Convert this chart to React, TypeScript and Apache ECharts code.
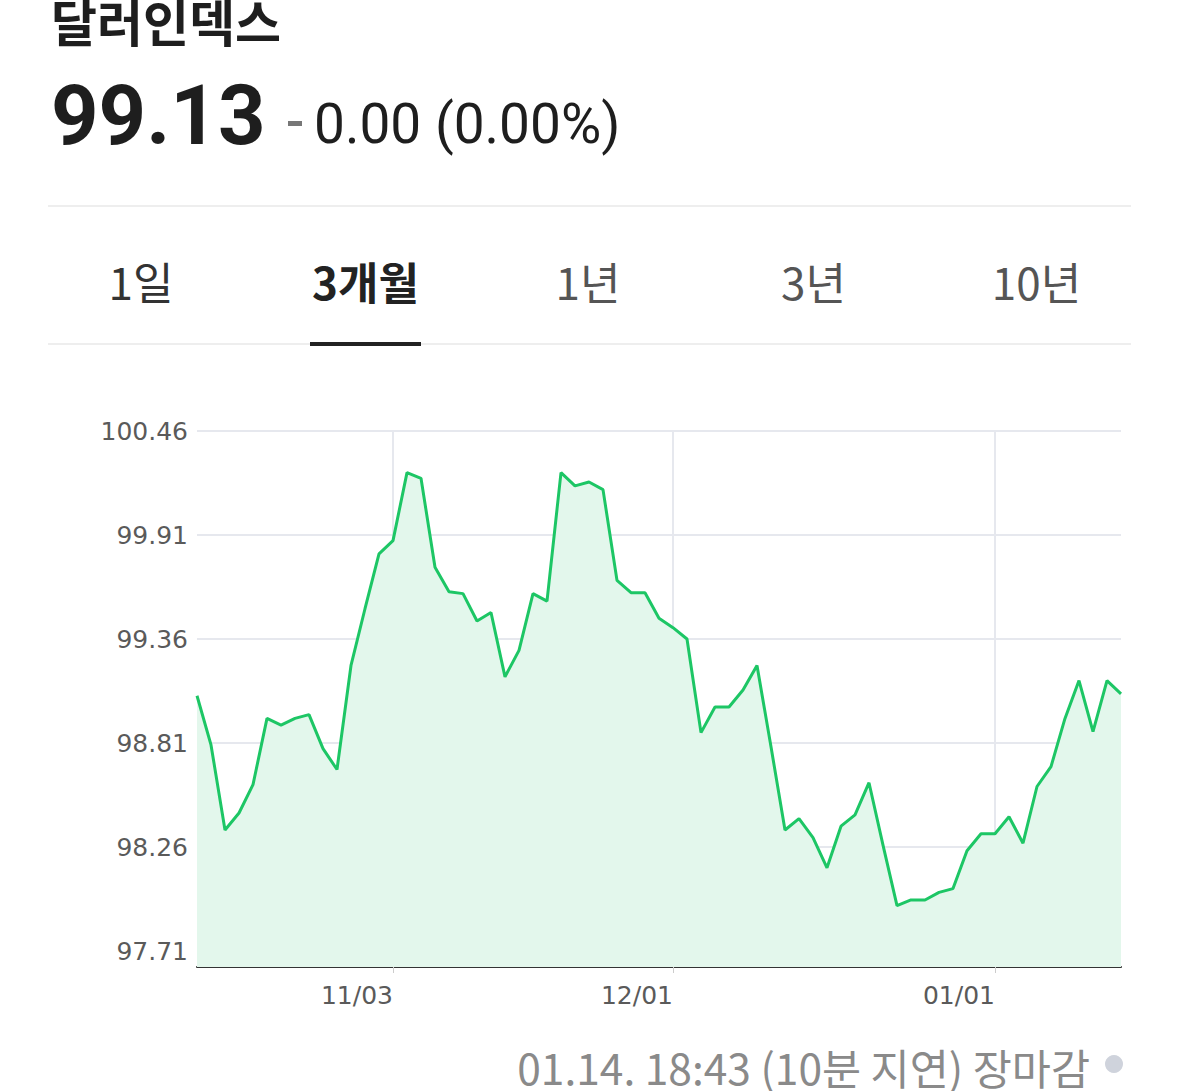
import React, { useEffect, useRef } from "react";
import * as echarts from "echarts";

const dates: string[] = [
  "10/14", "10/15", "10/16", "10/17", "10/20", "10/21", "10/22", "10/23", "10/24", "10/27",
  "10/28", "10/29", "10/30", "10/31",
  "11/03", "11/04", "11/05", "11/06", "11/07", "11/10", "11/11", "11/12", "11/13", "11/14",
  "11/17", "11/18", "11/19", "11/20", "11/21", "11/24", "11/25", "11/26", "11/27", "11/28",
  "12/01", "12/02", "12/03", "12/04", "12/05", "12/08", "12/09", "12/10", "12/11", "12/12",
  "12/15", "12/16", "12/17", "12/18", "12/19", "12/22", "12/23", "12/24", "12/25", "12/26",
  "12/29", "12/30", "12/31",
  "01/01", "01/02", "01/05", "01/06", "01/07", "01/08", "01/09", "01/12", "01/13", "01/14",
];

const values: number[] = [
  99.06, 98.80, 98.35, 98.44, 98.59, 98.94, 98.905, 98.94, 98.96, 98.78,
  98.67, 99.22, 99.52, 99.81,
  99.88, 100.24, 100.21, 99.74, 99.61, 99.60, 99.455, 99.50, 99.16, 99.30,
  99.60, 99.56, 100.24, 100.17, 100.19, 100.15, 99.67, 99.605, 99.605, 99.47,
  99.42, 99.36, 98.865, 99.00, 99.00, 99.09, 99.22, 98.79, 98.35, 98.41,
  98.31, 98.15, 98.37, 98.43, 98.60, 98.27, 97.95, 97.98, 97.98, 98.02,
  98.04, 98.24, 98.33,
  98.33, 98.42, 98.28, 98.58, 98.685, 98.94, 99.14, 98.87, 99.14, 99.07,
];

const xTickLabels: string[] = ["11/03", "12/01", "01/01"];
const yTickLabels: number[] = [97.71, 98.26, 98.81, 99.36, 99.91, 100.46];

const title = "달러인덱스";
const price = "99.13";
const change = "0.00 (0.00%)";
const tabs: string[] = ["1일", "3개월", "1년", "3년", "10년"];
const selectedTab = "3개월";
const footer = "01.14. 18:43 (10분 지연) 장마감";

const KR = "'Noto Sans CJK KR', 'Noto Sans', sans-serif";
const NUM = "Roboto, 'Noto Sans CJK KR', sans-serif";
const AX = "'DejaVu Sans', sans-serif";

export default function App() {
  const ref = useRef<HTMLDivElement>(null);

  useEffect(() => {
    if (!ref.current) return;
    const chart = echarts.init(ref.current, undefined, { renderer: "svg" });
    const showIdx = (idx: number) => xTickLabels.includes(dates[idx]);
    const tabCenters = [141, 365.5, 588, 813.5, 1036.5];

    const graphics: any[] = [
      {
        type: "text", x: 51, y: 20,
        style: { text: title, font: `bold 50px ${KR}`, fill: "#1e1e1e", align: "left", verticalAlign: "middle" },
      },
      {
        type: "text", x: 51, y: 115,
        style: { text: price, font: `bold 83px ${NUM}`, fill: "#1e1e1e", align: "left", verticalAlign: "middle" },
      },
      {
        type: "rect", shape: { x: 288, y: 121, width: 14, height: 5 },
        style: { fill: "#777" },
      },
      {
        type: "text", x: 314, y: 124,
        style: { text: change, font: `55px ${NUM}`, fill: "#1e1e1e", align: "left", verticalAlign: "middle" },
      },
      { type: "rect", shape: { x: 48, y: 205, width: 1083, height: 2 }, style: { fill: "#eeeeee" } },
      { type: "rect", shape: { x: 48, y: 343, width: 1083, height: 2 }, style: { fill: "#eeeeee" } },
      { type: "rect", shape: { x: 310, y: 342, width: 111, height: 4 }, style: { fill: "#222222" } },
      ...tabs.map((t, i) => ({
        type: "text", x: tabCenters[i], y: 281,
        style: {
          text: t,
          font: `${t === selectedTab ? "bold " : ""}44px ${KR}`,
          fill: t === selectedTab ? "#222222" : i === 0 ? "#333333" : "#555555",
          align: "center", verticalAlign: "middle",
        },
      })),
      {
        type: "text", x: 1090, y: 1066,
        style: { text: footer, font: `42.5px ${KR}`, fill: "#8a8a8a", align: "right", verticalAlign: "middle" },
      },
      { type: "circle", shape: { cx: 1114, cy: 1064, r: 9 }, style: { fill: "#cfd3dc" } },
    ];

    chart.setOption({
      animation: false,
      grid: { left: 197, right: 58, top: 431, bottom: 124 },
      xAxis: {
        type: "category",
        data: dates,
        boundaryGap: false,
        axisLine: { lineStyle: { color: "#333333", width: 2 } },
        axisTick: { show: true, length: 6, interval: showIdx, lineStyle: { color: "#cccccc", width: 1 } },
        axisLabel: {
          interval: showIdx, align: "right", margin: 16,
          fontSize: 25, fontFamily: AX, color: "#5a5a5a",
        },
        splitLine: { show: true, interval: showIdx, lineStyle: { color: "#e6e8ee", width: 2 } },
      },
      yAxis: {
        type: "value",
        min: 97.71 - (0.55 * 16) / 104,
        max: 100.46,
        axisLine: { show: false },
        axisTick: { show: false, customValues: yTickLabels },
        axisLabel: {
          customValues: yTickLabels, margin: 9,
          fontSize: 25, fontFamily: AX, color: "#5a5a5a",
          formatter: (v: number) => v.toFixed(2),
        },
        splitLine: { show: true, lineStyle: { color: "#e6e8ee", width: 2 } },
      },
      series: [
        {
          type: "line",
          data: values,
          showSymbol: false,
          lineStyle: { color: "#1dc665", width: 3 },
          itemStyle: { color: "#1dc665" },
          areaStyle: { color: "#e3f7ec", opacity: 1 },
        },
      ],
      graphic: graphics,
    });
    return () => chart.dispose();
  }, []);

  return (
    <div
      ref={ref}
      style={{ position: "absolute", left: 0, top: 0, width: 1179, height: 1091, background: "#ffffff" }}
    />
  );
}
